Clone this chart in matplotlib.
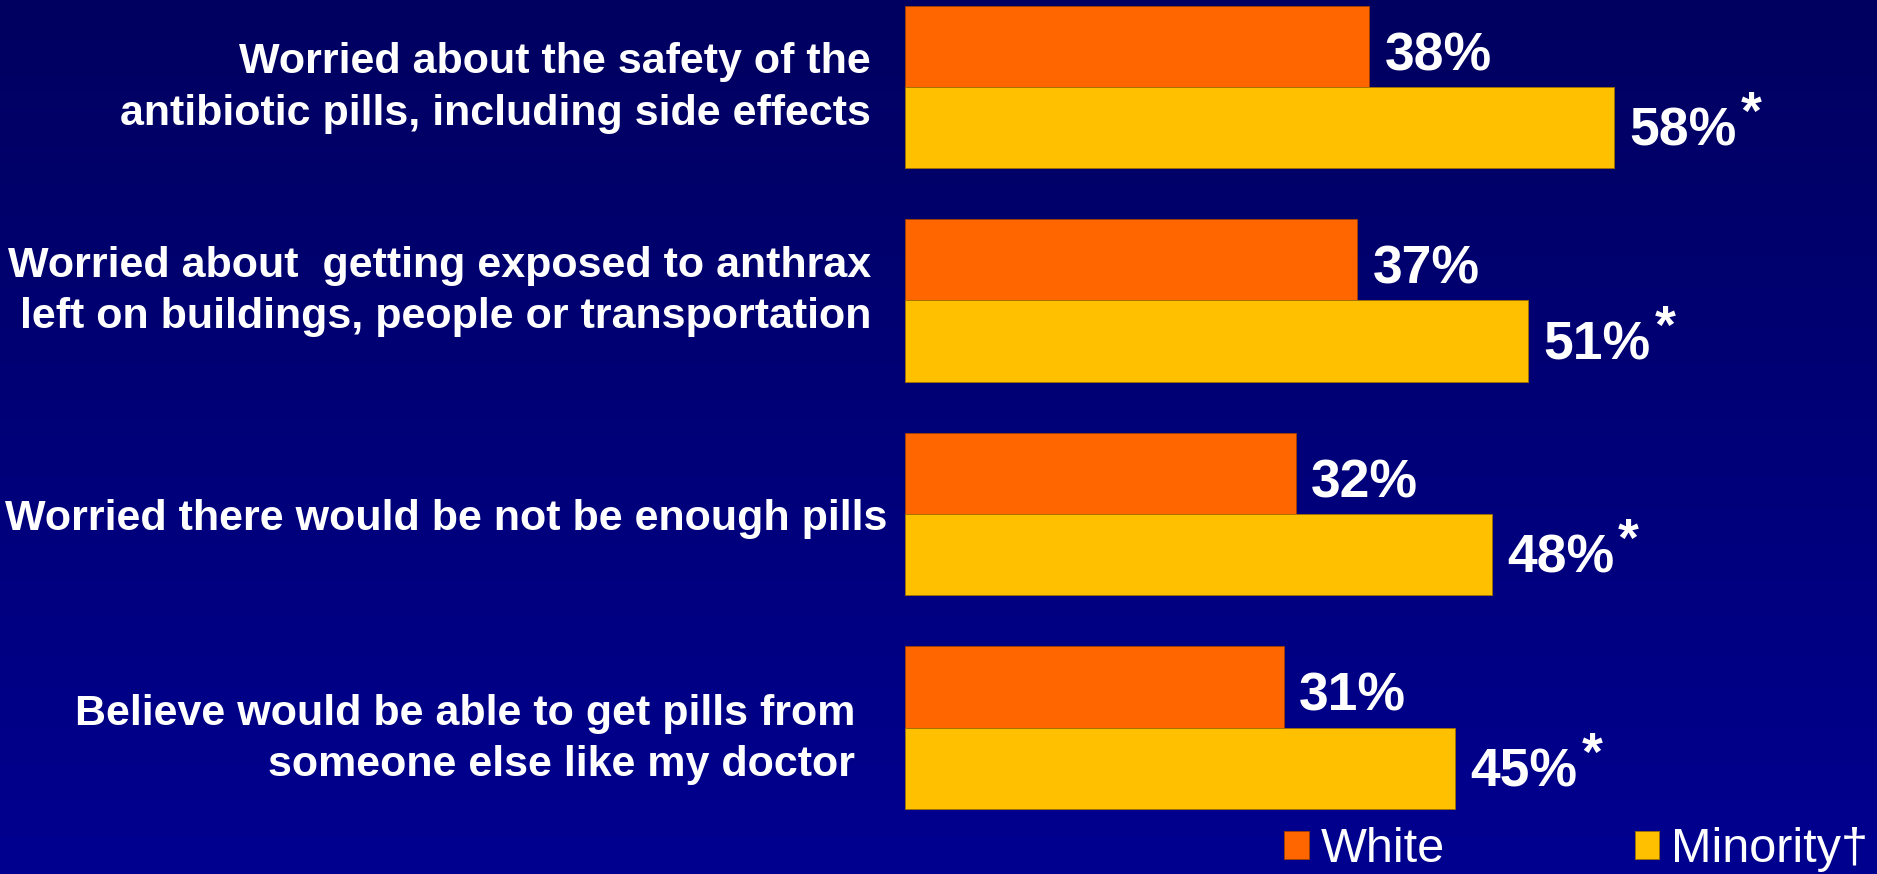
import numpy as np
import matplotlib.pyplot as plt

categories = [
    'Worried about the safety of the\nantibiotic pills, including side effects',
    'Worried about  getting exposed to anthrax\nleft on buildings, people or transportation',
    'Worried there would be not be enough pills',
    'Believe would be able to get pills from\nsomeone else like my doctor',
]
white = [38, 37, 32, 31]
minority = [58, 51, 48, 45]
series_names = ['White', 'Minority\u2020']

W, H = 1877, 874
fig = plt.figure(figsize=(W / 100, H / 100), dpi=100)

# dark blue vertical gradient behind everything
bg = fig.add_axes([0, 0, 1, 1], zorder=-10)
grad = np.linspace(0, 1, 256).reshape(-1, 1)
top = np.array([0, 0, 0x60]) / 255
bot = np.array([0, 0, 0x90]) / 255
img = top + grad[..., None] * (bot - top)
bg.imshow(img, aspect='auto', extent=(0, 1, 0, 1))
bg.axis('off')

x0 = 905
ax = fig.add_axes([x0 / W, 0, 1 - x0 / W, 1])
ax.set_facecolor('none')
ax.set_xlim(0, (W - x0) / 12.22)
ax.set_ylim(3.686, -0.407)
ax.axis('off')

y = np.arange(len(categories))
h = 0.38
b1 = ax.barh(y - h / 2, white, height=h, color='#FF6600', edgecolor='#A04000', lw=0.6)
b2 = ax.barh(y + h / 2, minority, height=h, color='#FFC000', edgecolor='#A07000', lw=0.6)

vfont = dict(family='Liberation Sans', weight='bold', size=38.5, color='white')
for i in range(len(categories)):
    ax.annotate(f'{white[i]}%', (white[i], y[i] - h / 2), xytext=(11, -7),
                textcoords='offset points', va='center', ha='left', **vfont)
    t = ax.annotate(f'{minority[i]}%', (minority[i], y[i] + h / 2), xytext=(11, -3),
                    textcoords='offset points', va='center', ha='left', **vfont)
    ax.annotate('*', (1, 1), xycoords=t, xytext=(3, 12), textcoords='offset points',
                va='top', ha='left', **vfont)

# category labels: right edge (px) and small vertical nudge (px) per row
label_right = [871, 871, 887, 855]
label_nudge = [1, -9, 5, 12]
lfont = dict(family='Liberation Sans', weight='bold', size=31, color='white')
for i, c in enumerate(categories):
    yy = 1 - (87 + 213.5 * i + label_nudge[i]) / H
    fig.text(label_right[i] / W, yy, c, ha='right', va='center', linespacing=1.38, **lfont)

fig.legend([b1, b2], series_names, loc='lower right', bbox_to_anchor=(1 - 9 / W, 0.002),
           ncol=2, frameon=False, handlelength=0.5, handleheight=0.5,
           handletextpad=0.25, columnspacing=3.9, borderaxespad=0, borderpad=0,
           prop=dict(family='Liberation Sans', size=35), labelcolor='white')

fig.savefig('out.png', dpi=100)
